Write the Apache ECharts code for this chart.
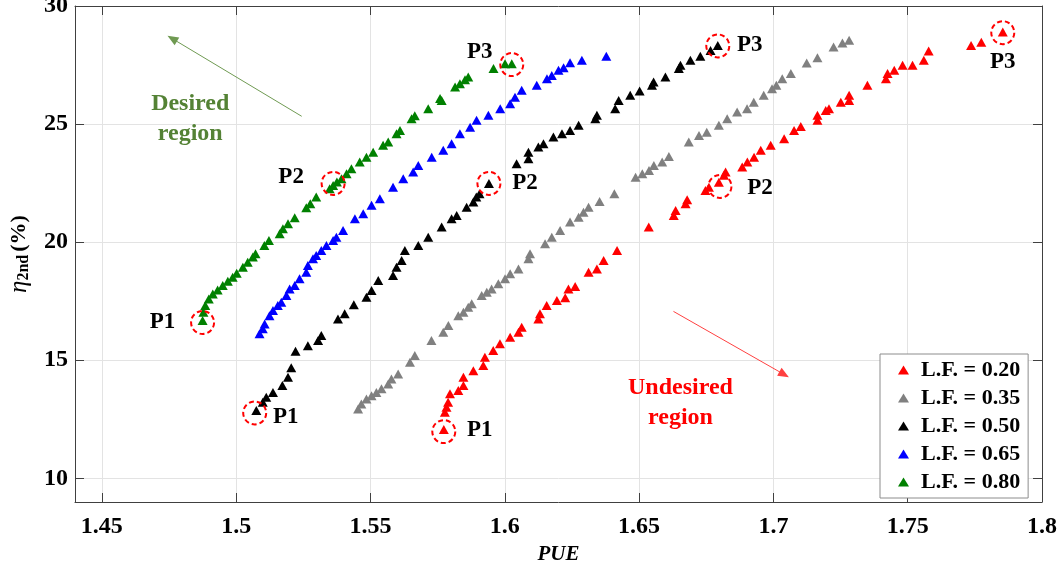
<!DOCTYPE html>
<html>
<head>
<meta charset="utf-8">
<script src="https://cdn.jsdelivr.net/npm/echarts@6/dist/echarts.min.js"></script>
<style>
  html, body { margin: 0; padding: 0; background: #fff; }
  #chart { width: 1063px; height: 571px; }
</style>
</head>
<body>
<div id="chart"></div>
<script>
// tick values
var xTicks = [1.45, 1.5, 1.55, 1.6, 1.65, 1.7, 1.75, 1.8];
var yTicks = [10, 15, 20, 25, 30];

// [PUE, eta_2nd], one list per load factor
var lf020 = [[1.5773,12.07],[1.5777,12.80],[1.5783,13.01],[1.5789,13.22],[1.5796,13.58],[1.5827,13.72],[1.5846,13.93],[1.5846,14.28],[1.5883,14.56],[1.5920,14.78],[1.5926,15.13],[1.5957,15.41],[1.5982,15.70],[1.6020,15.98],[1.6051,16.19],[1.6063,16.40],[1.6125,16.75],[1.6131,16.97],[1.6156,17.32],[1.6194,17.53],[1.6225,17.65],[1.6237,18.02],[1.6262,18.12],[1.6312,18.73],[1.6343,18.87],[1.6368,19.23],[1.6418,19.65],[1.6536,20.64],[1.6629,21.13],[1.6636,21.34],[1.6673,21.63],[1.6679,21.80],[1.6747,22.19],[1.6760,22.33],[1.6797,22.54],[1.6816,22.83],[1.6822,22.97],[1.6884,23.18],[1.6903,23.39],[1.6928,23.60],[1.6953,23.89],[1.6990,24.10],[1.7040,24.38],[1.7077,24.73],[1.7102,24.90],[1.7164,25.16],[1.7164,25.37],[1.7195,25.58],[1.7207,25.65],[1.7251,25.93],[1.7282,26.00],[1.7282,26.22],[1.7350,26.64],[1.7419,26.92],[1.7425,27.14],[1.7450,27.28],[1.7481,27.49],[1.7518,27.49],[1.7560,27.70],[1.7578,28.10],[1.7736,28.33],[1.7774,28.47],[1.7854,28.90]];
var lf035 = [[1.5454,12.94],[1.5466,13.15],[1.5485,13.36],[1.5504,13.50],[1.5522,13.64],[1.5541,13.79],[1.5566,14.00],[1.5578,14.21],[1.5603,14.42],[1.5647,14.92],[1.5665,15.20],[1.5727,15.84],[1.5771,16.19],[1.5790,16.47],[1.5827,16.89],[1.5846,17.03],[1.5864,17.25],[1.5877,17.39],[1.5914,17.74],[1.5933,17.88],[1.5951,18.02],[1.5976,18.24],[1.6001,18.45],[1.6020,18.66],[1.6051,18.87],[1.6088,19.30],[1.6094,19.51],[1.6150,19.93],[1.6175,20.21],[1.6206,20.50],[1.6243,20.85],[1.6275,21.06],[1.6293,21.27],[1.6312,21.48],[1.6353,21.72],[1.6408,22.05],[1.6487,22.75],[1.6512,22.90],[1.6537,23.04],[1.6555,23.25],[1.6586,23.39],[1.6611,23.63],[1.6685,24.24],[1.6723,24.52],[1.6752,24.66],[1.6797,24.95],[1.6828,25.23],[1.6865,25.51],[1.6902,25.65],[1.6927,25.93],[1.6964,26.22],[1.6995,26.50],[1.7011,26.64],[1.7033,26.92],[1.7065,27.14],[1.7124,27.59],[1.7164,27.81],[1.7224,28.26],[1.7257,28.43],[1.7282,28.55]];
var lf050 = [[1.5075,12.87],[1.5099,13.22],[1.5112,13.43],[1.5137,13.64],[1.5172,13.93],[1.5193,14.28],[1.5205,14.68],[1.5221,15.38],[1.5267,15.62],[1.5305,15.84],[1.5317,16.05],[1.5379,16.75],[1.5404,16.97],[1.5438,17.35],[1.5485,17.67],[1.5504,17.95],[1.5529,18.38],[1.5584,18.59],[1.5597,18.94],[1.5616,19.23],[1.5628,19.65],[1.5678,19.86],[1.5715,20.21],[1.5765,20.64],[1.5802,20.99],[1.5821,21.13],[1.5858,21.48],[1.5883,21.70],[1.5894,21.91],[1.5906,22.05],[1.5941,22.48],[1.6044,23.32],[1.6088,23.53],[1.6088,23.81],[1.6125,24.03],[1.6144,24.17],[1.6181,24.45],[1.6213,24.59],[1.6243,24.73],[1.6275,24.95],[1.6337,25.23],[1.6343,25.37],[1.6411,25.65],[1.6424,26.00],[1.6467,26.22],[1.6502,26.40],[1.6548,26.64],[1.6554,26.78],[1.6598,26.99],[1.6648,27.35],[1.6654,27.49],[1.6691,27.70],[1.6728,27.87],[1.6766,28.12],[1.6793,28.33]];
var lf065 = [[1.5087,16.12],[1.5099,16.33],[1.5106,16.54],[1.5124,16.89],[1.5137,17.11],[1.5155,17.32],[1.5168,17.46],[1.5187,17.74],[1.5199,18.02],[1.5218,18.17],[1.5236,18.45],[1.5261,18.73],[1.5267,19.01],[1.5286,19.30],[1.5298,19.44],[1.5317,19.65],[1.5336,19.86],[1.5361,20.07],[1.5373,20.21],[1.5398,20.50],[1.5442,20.99],[1.5473,21.20],[1.5504,21.56],[1.5535,21.84],[1.5584,22.33],[1.5622,22.69],[1.5659,22.97],[1.5678,23.25],[1.5728,23.60],[1.5771,23.89],[1.5802,24.17],[1.5833,24.59],[1.5871,24.87],[1.5895,25.16],[1.5939,25.37],[1.5983,25.65],[1.6020,25.86],[1.6038,26.14],[1.6063,26.43],[1.6119,26.64],[1.6157,26.92],[1.6175,27.06],[1.6200,27.28],[1.6219,27.39],[1.6243,27.60],[1.6287,27.70],[1.6378,27.87]];
var lf080 = [[1.4875,16.68],[1.4878,17.03],[1.4885,17.32],[1.4898,17.60],[1.4913,17.81],[1.4931,17.98],[1.4950,18.17],[1.4969,18.35],[1.4987,18.52],[1.5002,18.69],[1.5025,18.94],[1.5043,19.15],[1.5062,19.37],[1.5072,19.51],[1.5105,19.86],[1.5122,20.07],[1.5162,20.36],[1.5174,20.57],[1.5193,20.78],[1.5218,21.03],[1.5261,21.46],[1.5276,21.63],[1.5298,21.91],[1.5348,22.26],[1.5361,22.40],[1.5375,22.55],[1.5392,22.69],[1.5411,22.90],[1.5429,23.11],[1.5460,23.39],[1.5485,23.60],[1.5510,23.81],[1.5547,24.10],[1.5566,24.24],[1.5597,24.59],[1.5610,24.73],[1.5653,25.23],[1.5665,25.35],[1.5715,25.65],[1.5759,26.08],[1.5765,26.00],[1.5815,26.57],[1.5833,26.71],[1.5852,26.88],[1.5864,26.99],[1.5958,27.35],[1.6001,27.56],[1.6026,27.56]];

var seriesNames = ['L.F. = 0.20', 'L.F. = 0.35', 'L.F. = 0.50', 'L.F. = 0.65', 'L.F. = 0.80'];
var seriesColors = ['#ff0000', '#808080', '#000000', '#0000ff', '#008000'];
var seriesData = [lf020, lf035, lf050, lf065, lf080];

// highlighted operating points P1..P3 (circle centre, label, label offset)
var markedNames = ['P1', 'P2', 'P3', 'P1', 'P2', 'P3', 'P1', 'P2', 'P3'];
var markedPoints = [[1.4875,16.60],[1.5361,22.49],[1.6026,27.52],[1.5069,12.77],[1.5941,22.49],[1.6793,28.31],[1.5773,11.98],[1.6801,22.36],[1.7854,28.87]];
var markedOffsets = [[-40,0],[-42,-6],[-32,-13],[31,4],[36,0],[32,-1],[36,-2],[40,2],[0,29]];

var serif = 'Liberation Serif';

var chart = echarts.init(document.getElementById('chart'));

var series = seriesData.map(function (d, i) {
    return {
        name: seriesNames[i],
        type: 'scatter',
        data: d,
        symbol: 'triangle',
        symbolSize: [10, 9],
        itemStyle: { color: seriesColors[i], opacity: 1 },
        z: 3
    };
});

// dashed circles with P labels
series.push({
    name: 'marks',
    type: 'scatter',
    data: markedPoints.map(function (p, i) {
        return {
            value: p,
            label: {
                show: true,
                formatter: markedNames[i],
                position: 'inside',
                offset: markedOffsets[i]
            }
        };
    }),
    symbol: 'circle',
    symbolSize: 23,
    itemStyle: { color: 'rgba(0,0,0,0)', borderColor: '#ff0000', borderWidth: 2, borderType: [5, 3], opacity: 1 },
    label: { fontFamily: serif, fontWeight: 'bold', fontSize: 23, color: '#000' },
    z: 4,
    silent: true
});

// arrows and region text
series.push({
    name: 'notes',
    type: 'scatter',
    data: [],
    markLine: {
        silent: true,
        symbol: ['none', 'triangle'],
        symbolSize: [9, 11],
        label: { show: false },
        data: [
            [{ coord: [1.5244, 25.33], lineStyle: { color: '#6f9a52', width: 1, type: 'solid' } }, { coord: [1.4762, 28.62] }],
            [{ coord: [1.6628, 17.07], lineStyle: { color: '#ff4040', width: 1, type: 'solid' } }, { coord: [1.7040, 14.40] }]
        ]
    },
    markPoint: {
        silent: true,
        symbol: 'circle',
        symbolSize: 0,
        label: { show: true, position: 'inside', fontFamily: serif, fontWeight: 'bold', fontSize: 24, lineHeight: 30 },
        data: [
            { coord: [1.4829, 25.24], value: 'Desired\nregion', label: { formatter: 'Desired\nregion', color: '#548235' } },
            { coord: [1.6654, 13.21], value: 'Undesired\nregion', label: { formatter: 'Undesired\nregion', color: '#ff0000' } }
        ]
    }
});

var option = {
    animation: false,
    textStyle: { fontFamily: serif },
    grid: { left: 75, right: 21, top: 6, bottom: 69, outerBoundsMode: 'none', containLabel: false },
    legend: {
        data: seriesNames.map(function (n) { return { name: n, icon: 'triangle' }; }),
        orient: 'vertical',
        left: 880,
        top: 354,
        padding: [5, 8, 5, 18],
        itemGap: 6,
        itemWidth: 11,
        itemHeight: 9,
        backgroundColor: '#fff',
        borderColor: '#8c8c8c',
        borderWidth: 1,
        textStyle: { fontFamily: serif, fontWeight: 'bold', fontSize: 22, color: '#000', lineHeight: 20, padding: [0, 0, 0, 7] }
    },
    xAxis: [{
        type: 'value',
        min: 1.44,
        max: 1.8,
        name: 'PUE',
        nameLocation: 'middle',
        nameGap: 42,
        nameTextStyle: { fontFamily: serif, fontStyle: 'italic', fontWeight: 'bold', fontSize: 21, color: '#000' },
        axisLine: { show: true, lineStyle: { color: '#404040', width: 1 } },
        axisTick: { show: true, inside: true, length: 9, customValues: xTicks, lineStyle: { color: '#404040' } },
        axisLabel: { customValues: xTicks, margin: 13, fontFamily: serif, fontWeight: 'bold', fontSize: 24, color: '#000',
            formatter: function (v) { return String(+v.toFixed(2)); } },
        splitLine: { show: true, lineStyle: { color: '#e3e3e3', width: 1 } }
    }, {
        type: 'value',
        position: 'top',
        min: 1.44,
        max: 1.8,
        axisLine: { show: true, lineStyle: { color: '#404040', width: 1 } },
        axisTick: { show: true, inside: true, length: 9, customValues: xTicks, lineStyle: { color: '#404040' } },
        axisLabel: { show: false },
        splitLine: { show: false }
    }],
    yAxis: [{
        type: 'value',
        min: 9,
        max: 30,
        name: '{e|η}{s|2nd} {p|(%)}',
        nameLocation: 'middle',
        nameGap: 43,
        nameTextStyle: {
            color: '#000',
            rich: {
                e: { fontFamily: serif, fontStyle: 'italic', fontSize: 25, color: '#000' },
                s: { fontFamily: serif, fontWeight: 'bold', fontSize: 16, color: '#000', padding: [10, 0, 0, 0] },
                p: { fontFamily: serif, fontWeight: 'bold', fontSize: 22, color: '#000' }
            }
        },
        axisLine: { show: true, lineStyle: { color: '#404040', width: 1 } },
        axisTick: { show: true, inside: true, length: 9, customValues: yTicks, lineStyle: { color: '#404040' } },
        axisLabel: { customValues: yTicks, margin: 7, fontFamily: serif, fontWeight: 'bold', fontSize: 24, color: '#000' },
        splitLine: { show: true, lineStyle: { color: '#e3e3e3', width: 1 } }
    }, {
        type: 'value',
        position: 'right',
        min: 9,
        max: 30,
        axisLine: { show: true, lineStyle: { color: '#404040', width: 1 } },
        axisTick: { show: true, inside: true, length: 9, customValues: yTicks, lineStyle: { color: '#404040' } },
        axisLabel: { show: false },
        splitLine: { show: false }
    }],
    series: series
};

chart.setOption(option);
</script>
</body>
</html>
